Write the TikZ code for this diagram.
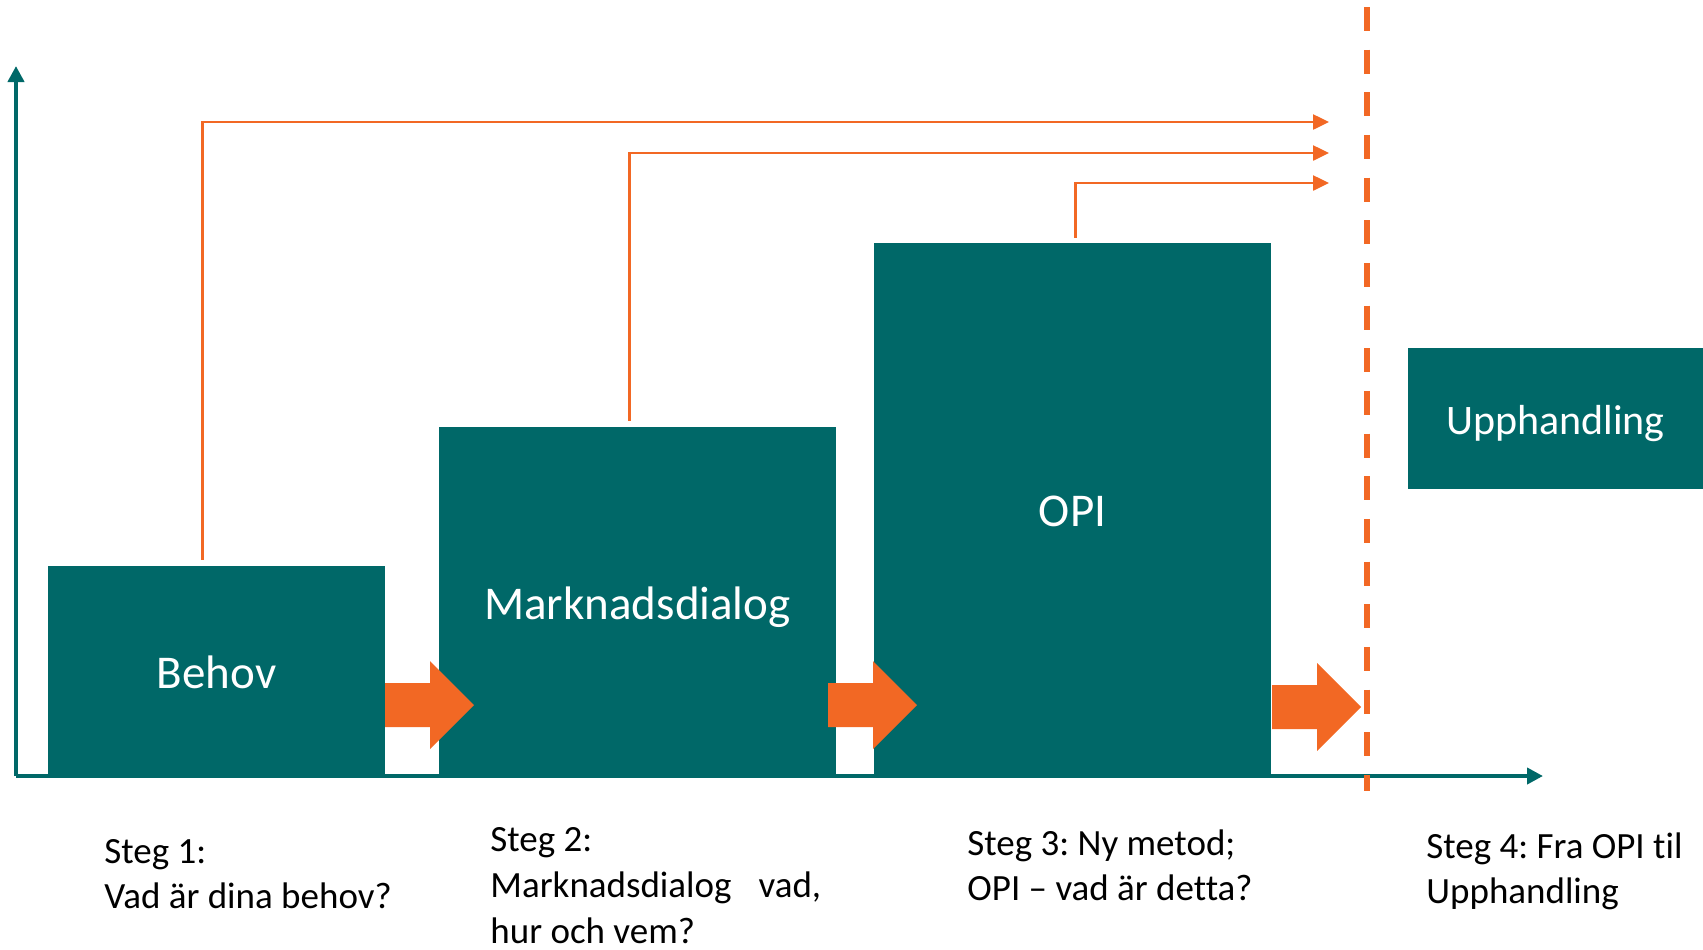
\documentclass[tikz,border=0pt]{standalone}
\usepackage{fontspec}
\setmainfont{Carlito}[Ligatures=NoCommon]
\usetikzlibrary{arrows.meta,calc}
\definecolor{tealc}{RGB}{0,104,104}
\definecolor{orangec}{RGB}{242,104,36}
\frenchspacing

\begin{document}
\begin{tikzpicture}[x=0.5pt,y=-0.5pt,
  box/.style={fill=tealc, draw=none, inner sep=0pt, text=white,
    font=\fontsize{23.5}{28}\selectfont, text height=17pt, text depth=0pt},
  conn/.style={draw=orangec, line width=1.25pt, -{Triangle[length=8pt,width=7.5pt]}},
  axis/.style={draw=tealc, line width=2pt, -{Triangle[length=8pt,width=8pt]}},
  steplabel/.style={anchor=base west, align=left, inner sep=0pt,
    font=\fontsize{18.5}{22.8}\selectfont},
  pics/flowarrow/.style={code={
    \fill[orangec] (0,-22) -- (45,-22) -- (45,-44) -- (89,0) -- (45,44) -- (45,22) -- (0,22) -- cycle;}}]
\useasboundingbox (0,0) rectangle (1703,949);

% axes
\coordinate (o) at (16,776);
\coordinate (ytip) at (16,66);
\coordinate (xtip) at (1543,776);
\draw[axis] (o) -- (ytip);
\draw[axis] (o) -- (xtip);

% process boxes
\node[box, minimum width=168.5pt, minimum height=105pt] (behov) at (216.5,671) {Behov};
\node[box, minimum width=198.5pt, minimum height=175.5pt] (mark) at (637.5,602.5) {Marknadsdialog};
\node[box, minimum width=198.5pt, minimum height=266.5pt] (opi) at (1072.5,509.5) {OPI};
\node[box, font=\fontsize{21}{25}\selectfont, text height=15.5pt, minimum width=147.5pt, minimum height=70.5pt] (upph) at (1555.5,418.5) {Upphandling};

% flow arrows between the steps
\pic at (385,705) {flowarrow};
\pic at (828,705) {flowarrow};
\pic at (1272,707) {flowarrow};

% feedback lines towards the boundary
\coordinate (t1) at (1329,122);
\coordinate (t2) at (1329,153);
\coordinate (t3) at (1329,183);
\draw[conn] ($(behov.north west)+(155,-6)$) |- (t1);
\draw[conn] ($(mark.north west)+(191,-6)$) |- (t2);
\draw[conn] ($(opi.north west)+(202,-5)$) |- (t3);

% boundary before procurement
\coordinate (dtop) at (1367,7);
\coordinate (dbot) at (1367,791);
\draw[orangec, line width=3pt, dash pattern=on 12pt off 9.33pt] (dtop) -- (dbot);

% step captions (anchored at the baseline of the last line)
\node[steplabel] (s1) at (104,908.6) {Steg 1:\\Vad är dina behov?};
\node[steplabel, text depth=0pt] (s2) at (490,943) {Steg 2:\\Marknadsdialog\hspace{13.5pt}vad,\\hur och vem?};
\node[steplabel] (s3) at (967,900.6) {Steg 3: Ny metod;\\OPI – vad är detta?};
\node[steplabel] (s4) at (1426,903.6) {Steg 4: Fra OPI til\\Upphandling};
\end{tikzpicture}
\end{document}
